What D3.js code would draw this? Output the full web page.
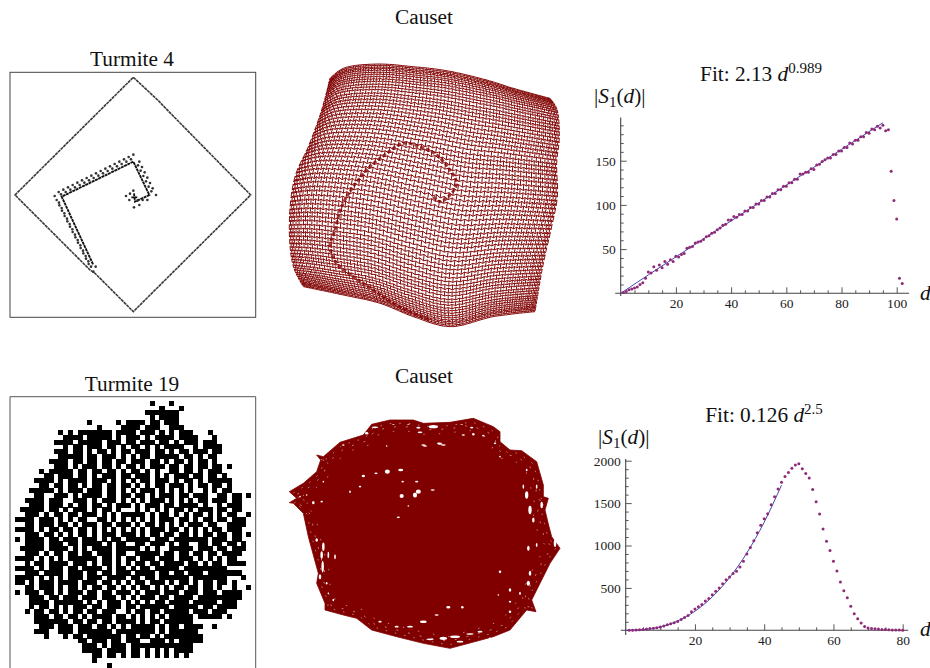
<!DOCTYPE html>
<html>
<head>
<meta charset="utf-8">
<script src="https://cdnjs.cloudflare.com/ajax/libs/d3/7.8.5/d3.min.js"></script>
<style>
  html, body { margin: 0; padding: 0; background: #fff; }
  svg { display: block; font-family: "Liberation Serif", serif; }
  .tick text { font-size: 13.5px; fill: #222; font-family: "Liberation Serif", serif; }
  .title { font-size: 21.3px; fill: #111; }
</style>
</head>
<body>
<svg id="chart" width="930" height="668"></svg>
<script>
// top scatter |S1(d)|, d = 1..102
const topValues = [1,2,4,5,6,7,10,12,17,24,23,30,26,32,29,36,33,38,36,42,41,44,45,51,52,53,57,58,59,61,64,65,68,69,72,74,77,78,83,83,87,86,89,89,93,93,97,97,101,101,105,105,109,109,113,113,117,117,121,121,125,125,129,129,135,135,137,137,141,140,145,146,149,151,153,153,157,157,161,161,165,165,170,169,173,173,177,177,182,181,186,185,189,187,190,184,185,138,105,84,17,11];
const topFitD = [0,10,20,30,40,50,60,70,80,90,95];
const topFitS = [0,20.8,41.2,61.6,81.9,102.2,122.4,142.6,162.8,182.9,193];
// bottom scatter |S1(d)|, d = 1..80
const botValues = [1,2,4,6,10,14,20,24,30,38,50,65,78,88,105,128,150,175,220,250,278,305,345,375,420,460,500,550,595,630,670,695,745,815,900,975,1055,1150,1240,1315,1375,1480,1575,1665,1745,1815,1860,1910,1950,1965,1905,1850,1795,1660,1515,1370,1195,1050,940,815,700,570,465,385,285,195,135,85,45,28,22,18,14,10,8,6,5,4,3,2];
const botFitD = [0,5,10,15,20,25,30,35,40,45];
const botFitS = [0,7,40,110,225,394,621,913,1275,1711];

const topXTicks = [20,40,60,80,100];
const topYTicks = [50,100,150];
const botXTicks = [20,40,60,80];
const botYTicks = [500,1000,1500,2000];

// Turmite 4, traced in crop units
const diamondPts = [[400,112],[478,185],[490,198],[752,465],[400,815],[285,700],[270,690],[45,465],[400,112]];
const spiralPts = [[252,130],[255,155],[298,135],[250,35],[35,140],[130,345]];
const crossPts = [[244,142],[262,142]];
const turmiteDots = [[250,14],[236,21],[222,28],[208,35],[194,42],[180,49],[166,56],[152,63],[138,70],[124,77],[110,84],[96,91],[82,98],[68,105],[54,112],[40,119],[26,126],[14,138],
  [243,28],[229,35],[215,42],[201,49],[187,56],[173,63],[159,70],[145,77],[131,84],[117,91],[103,98],[89,105],[75,112],[61,119],[47,126],[33,133],
  [268,35],[276,51],[284,67],[292,83],[300,99],[308,115],[318,135],[264,46],[272,62],[280,78],[288,94],[296,110],[304,124],
  [27,158],[35,174],[43,190],[51,206],[59,222],[67,238],[75,254],[83,270],[91,286],[99,302],[107,318],[115,334],[123,350],[137,350],[130,365],
  [20,150],[28,166],[36,182],[44,198],[52,214],[60,230],[68,246],[76,262],[84,278],[92,294],[100,310],[108,326],[116,342],
  [228,138],[240,131],[250,122],[238,150],[252,172],[268,165],[278,150],[292,150],[262,152]];

// Turmite 19 bitmap, left half (columns 0-23) and right half (columns 24-48)
const bitsLeft = ["","","","",
"...............#.....#.#",
".................#....##",
".........#.#.#######.###",
"..........####.#####.#.#",
"........####.#####.###.#",
"..........#.##.###.##.#.",
"........###.##.#.##.#.##",
".........#####.##.###.#.",
".......####.##.##.##.##.",
"........###.#.###.##.#.#",
".....#.#####.##.##.##.#.",
"......##.###.##.#.###.##",
"....####.#.####.###.#.#.",
".....##.##.##.#.##.##.##",
"...#####.#.###.###.##.#.",
"....##..###.#.####.##.##",
"..####.###..###.#.###.#.",
"...###.###.#.##.##.#.###",
".#####.##.#.###.#.##.#..",
"..###.#.##.##.###.#.#.##",
"####.###.#.#.##..##.#.#.",
"..##.###.##.#.###.##.###",
"####.#.##.##.##.#.#.#.#.",
"..###.##.#.#.##.#.###.##",
"#.####.##.###.###.#.##.#",
"..####.###.##.####.#.##.",
".#####.####.#.#.####.###",
"..###.#.##.##.##.###.##.",
"####.#.#.#.######.##.#.#",
"..#.##.####.###.#.##.#.#",
"####.#.###.##.####.#.##.",
"..###.####.###.##.##.###",
"####.#.#.#.###.###.####.",
"##.#.###.####.###.##.#.#",
"..##.###.#.##.#.##.##.#.",
"#.###.##.#.###.##.##.###",
"...###.##.###.###.###.#.",
"...####.######.#.#.###.#",
"...#.##.#.#.###.##.###.#",
"..#.##.##.#.##.##.###..#",
"....###.##.##.#.####.##.",
"....#######.##.##.##.###",
".....###.###.###.##.#.#.",
"....###..###.#######.###",
"......#...#.##.#######.#",
".............##.###.##.#",
"..............###.#.###.",
"..............####.####.",
"................##.##.#.",
"................#",
"...................#"];
const bitsRight = [
"....#...#",
"......#...#",
"...#######",
"....#.####",
"###.##.###",
"##.###..###",
"#.###.#.#.###...#",
"##.#.####.####...#",
"#.###.##.#.###.###",
"##.#.#.####..#.####",
".###.##.#.##.###.##",
"#.##.#####.##.#.##",
"###.##.#.##.#.##.#",
"#.#.###.##.##.##.##.#",
"##.#.#..##.##.#.###",
".###.#.#.###.##.##.#",
"#.##.###.#.##.#.#####",
".#.#.##.###.#.##.##.#",
"#.###.#.#.#.#..#.#.##",
".##.#.###.##.###..##.##.#",
"#.#.###.#.#.#.##.###.##",
".#.###.##.####.#..#.###",
".#.#.#.#.##.#.###.##.##",
"###.#.##.#.#.##.#.#.##..#",
"#.#.#.###.##.#.##.##.###",
".#.##.#.#.#.###.##..####",
"#.#.###.##.#.#.#.##.###",
"#.#.##.##.##.#.##.##.##.#",
"####.###.#######.###.##",
".##.###.#.##..##.##.##.#",
"##.#.#..#####.###.##.###",
".#####.##.##.##.##.####",
"#.###.###.###.#.#.#.##",
".##.##.####.##.#.##.####",
"#.##.#####.#########",
".####.##.##.###.#######",
"##.##.######.#######...#",
".##.###.#.##.#.##.##.#",
"#.##.#.#.##.##.##.#..#..#",
".#.###.###.###.###.####",
"#.###.##.####.#########",
".#.#.##.####.#####.###",
"#.######.#####.##.####",
".##.##.#####.###.###",
"#.#.#.#.#####.#####.#",
"#.#.##.######...",
"#####.#.##.####..#",
"#####.#.######",
"#.##.#.########",
"##..###.#.#####",
"#############",
"##.#.#.#.####",
"##.#.#.#.#.#"];

// Causet 1 boundary and spiral, traced in crop units
const causetTop = [[150,85],[190,55],[290,42],[400,50],[500,62],[620,90],[700,115],[810,145]];
const causetRight = [[810,145],[830,175],[838,260],[830,340],[832,440],[815,530],[790,640],[765,785]];
const causetBottom = [[70,710],[190,735],[300,760],[400,800],[510,830],[640,800],[765,785]];
const causetLeft = [[150,85],[125,180],[85,290],[45,380],[28,520],[40,650],[70,710]];
const causetSpiral = [[460,440],[480,455],[510,435],[530,400],[510,360],[470,315],[420,290],[370,280],[320,310],[270,350],[220,410],[185,470],[165,540],[150,590],[170,640],[220,680],[280,720],[340,760],[400,790],[450,810]];

// Causet 2 outline and the gaps left in the tangle
const tangleOutline = [[28,185],[70,160],[110,125],[122,90],[110,75],[130,80],[180,37],[250,15],[275,-17],[330,-30],[400,-30],[430,-20],[510,-23],[580,-35],[640,-10],[660,5],[660,35],[690,60],[725,62],[770,95],[790,165],[790,200],[805,205],[795,240],[805,282],[815,320],[840,355],[810,400],[755,510],[768,545],[740,540],[690,600],[640,620],[510,655],[430,640],[350,620],[275,600],[230,565],[190,555],[135,540],[135,520],[110,460],[115,430],[85,320],[70,250],[40,220],[28,218],[50,205]];
const tangleHoles = [[322,125,6,5],[362,120,6,3],[250,138,4,3],[288,130,4,2],[240,170,3,2],[210,185,2,3],[130,155,2,2],[365,198,5,5],[405,195,5,6],[415,185,6,5],[458,180,5,2],[368,155,3,2],[410,155,4,2],[100,218,3,4],[125,215,3,2],[80,195,2,2],[130,350,3,10],[125,375,3,9],[128,410,3,14],[120,440,3,6],[145,375,2,8],[165,380,2,6],[740,195,4,9],[750,240,4,10],[785,225,3,8],[760,270,3,6],[730,170,2,5],[745,355,3,6],[770,345,2,5],[825,340,3,9],[750,430,3,6],[745,460,4,6],[720,490,2,4],[690,515,3,2],[655,495,2,2],[660,425,3,3],[505,532,5,3],[547,532,3,3],[690,545,3,3],[470,555,5,2],[430,575,8,3],[390,590,7,2],[300,575,4,2],[350,590,5,2],[450,628,9,2],[490,625,9,4],[525,620,12,3],[570,612,9,2],[600,605,6,2],[540,635,8,2],[630,625,3,2],[385,228,2,2],[355,262,4,2],[490,45,6,2],[478,40,6,2],[430,45,5,2],[320,48,2,2],[190,45,3,2],[285,-8,8,2],[260,10,4,3],[460,-10,11,4],[420,7,6,2],[550,15,4,2],[580,13,3,3],[610,17,3,2],[480,42,6,2],[435,48,5,2],[545,-17,4,1],[575,-7,4,2],[340,-17,4,1],[385,-17,4,1],[415,-7,5,2],[660,80,2,2],[645,40,3,2],[60,200,2,2],[740,120,2,3],[770,170,2,5],[690,480,3,4],[110,330,3,4],[145,490,2,2],[160,510,2,3],[140,460,2,3]];

const svg = d3.select("#chart");
const title = (x, y, txt) => svg.append("text").attr("class", "title").attr("x", x).attr("y", y).attr("text-anchor", "middle").text(txt);

title(424, 24, "Causet");
title(424, 383, "Causet");
title(132, 66, "Turmite 4");
title(132, 391, "Turmite 19");

// Turmite 4
const t4x = d3.scaleLinear().domain([30, 767]).range([10, 255.7]);
const t4y = d3.scaleLinear().domain([97, 832]).range([72.3, 317.3]);
const t7x = d3.scaleLinear().domain([0, 330]).range([50, 160]);
const t7y = d3.scaleLinear().domain([0, 375]).range([150, 275]);
svg.append("rect").attr("x", t4x(30)).attr("y", t4y(97)).attr("width", t4x(767) - t4x(30)).attr("height", t4y(832) - t4y(97))
  .attr("fill", "none").attr("stroke", "#444");
svg.append("path").attr("d", d3.line().x(d => t4x(d[0])).y(d => t4y(d[1]))(diamondPts))
  .attr("fill", "none").attr("stroke", "#3a3a3a").attr("stroke-width", 1.6).attr("stroke-dasharray", "3.2 0.6");
[spiralPts, crossPts].forEach(pts => {
  svg.append("path").attr("d", d3.line().x(d => t7x(d[0])).y(d => t7y(d[1]))(pts))
    .attr("fill", "none").attr("stroke", "#111").attr("stroke-width", 1.9).attr("stroke-dasharray", "3 0.6");
});
svg.append("g").selectAll("circle").data(turmiteDots).join("circle")
  .attr("cx", d => t7x(d[0])).attr("cy", d => t7y(d[1])).attr("r", 1.3).attr("fill", "#333");

// Turmite 19
const colX = d3.scaleLinear().domain([0, 49]).range([15, 251]);
const rowY = d3.scaleLinear().domain([0, 55]).range([400.7, 667.5]);
svg.append("path").attr("d", "M" + t4x(30) + ",668V396.7H" + t4x(767) + "V668").attr("fill", "none").attr("stroke", "#555");
const cells = [];
bitsLeft.forEach((row, r) => {
  const full = row.padEnd(24, ".") + (bitsRight[r] || "");
  full.split("").forEach((ch, c) => { if (ch === "#") cells.push([c, r]); });
});
svg.append("g").attr("shape-rendering", "crispEdges").selectAll("rect").data(cells).join("rect")
  .attr("x", d => colX(d[0])).attr("y", d => rowY(d[1]))
  .attr("width", colX(1) - colX(0) + 0.2).attr("height", rowY(1) - rowY(0) + 0.2).attr("fill", "#000");

// Causet 1: hex lattice pulled into the traced boundary
const c1x = d3.scaleLinear().domain([0, 870]).range([280, 570]);
const c1y = d3.scaleLinear().domain([0, 870]).range([50, 340]);
const makeSampler = pts => {
  const p = svg.append("path").attr("d", d3.line().curve(d3.curveCatmullRom)(pts)).attr("fill", "none");
  const node = p.node(), len = node.getTotalLength();
  const samples = d3.range(0, 401).map(i => { const q = node.getPointAtLength(len * i / 400); return [q.x, q.y]; });
  p.remove();
  return t => samples[Math.round(t * 400)];
};
const sT = makeSampler(causetTop), sB = makeSampler(causetBottom), sL = makeSampler(causetLeft), sR = makeSampler(causetRight);
const warp = t => 0.4 * t + 0.6 * (0.5 + 0.5 * Math.sin(Math.PI * (t - 0.5)));
const patch = (a, b) => {
  const u = warp(Math.min(1, Math.max(0, a))), v = warp(Math.min(1, Math.max(0, b)));
  const T = sT(u), B = sB(u), L = sL(v), R = sR(v);
  const C = [causetTop[0], causetTop[causetTop.length - 1], causetBottom[0], causetBottom[causetBottom.length - 1]];
  return [0, 1].map(k =>
    (1 - v) * T[k] + v * B[k] + (1 - u) * L[k] + u * R[k]
    - ((1 - u) * (1 - v) * C[0][k] + u * (1 - v) * C[1][k] + (1 - u) * v * C[2][k] + u * v * C[3][k]));
};
const nu = 88, nv = 70;
const meshPt = (i, j) => {
  const q = patch(i / nu, (j + ((i + j) % 2 ? 0.2 : -0.2)) / nv);
  return c1x(q[0]).toFixed(1) + "," + c1y(q[1]).toFixed(1);
};
let mesh = "";
for (let j = 0; j <= nv; j++) {
  for (let i = 0; i <= nu; i++) {
    if (i < nu) mesh += "M" + meshPt(i, j) + "L" + meshPt(i + 1, j);
    if (j < nv && (i + j) % 2 === 0) mesh += "M" + meshPt(i, j) + "L" + meshPt(i, j + 1);
  }
}
svg.append("path").attr("d", mesh).attr("fill", "none").attr("stroke", "#800000").attr("stroke-width", 0.95);
svg.append("path").attr("d", d3.line().x(d => c1x(d[0])).y(d => c1y(d[1])).curve(d3.curveCatmullRom)(causetSpiral))
  .attr("fill", "none").attr("stroke", "#800000").attr("stroke-width", 3).attr("stroke-dasharray", "4 2").attr("stroke-opacity", 0.75);

// Causet 2
const c2x = d3.scaleLinear().domain([0, 870]).range([280, 570]);
const c2y = d3.scaleLinear().domain([0, 660]).range([430, 650]);
const tangleLine = d3.line().x(d => c2x(d[0])).y(d => c2y(d[1])).curve(d3.curveLinearClosed);
svg.append("path").attr("d", tangleLine(tangleOutline)).attr("fill", "#800000").attr("stroke", "#800000").attr("stroke-width", 0.8);
// loose strands near the rim
[[0.97, "1.5 8"], [0.94, "2 10"], [0.9, "1.5 14"]].forEach(([k, dash]) => {
  const inner = tangleOutline.map(d => [430 + (d[0] - 430) * k, 310 + (d[1] - 310) * k]);
  svg.append("path").attr("d", tangleLine(inner)).attr("fill", "none").attr("stroke", "#fff")
    .attr("stroke-width", 0.8).attr("stroke-opacity", 0.6).attr("stroke-dasharray", dash);
});
svg.append("g").selectAll("ellipse").data(tangleHoles).join("ellipse")
  .attr("cx", d => c2x(d[0])).attr("cy", d => c2y(d[1])).attr("rx", d => d[2] / 2.4).attr("ry", d => d[3] / 2.4).attr("fill", "#fff");

// scatter panels
function scatterPanel(o) {
  const x = d3.scaleLinear().domain(o.xDomain).range(o.xRange);
  const y = d3.scaleLinear().domain(o.yDomain).range(o.yRange);
  const axisColor = "#444";
  const g = svg.append("g");

  const gx = g.append("g").attr("transform", `translate(0,${y(0)})`);
  gx.call(d3.axisBottom(x).tickValues(o.xTicks).tickFormat(d3.format("d")).tickSizeInner(-6).tickSizeOuter(0).tickPadding(o.xPad));
  const gxm = g.append("g").attr("transform", `translate(0,${y(0)})`);
  gxm.call(d3.axisBottom(x).tickValues(o.xMinor).tickFormat("").tickSizeInner(-3).tickSizeOuter(0));
  const gy = g.append("g").attr("transform", `translate(${x(0)},0)`);
  gy.call(d3.axisLeft(y).tickValues(o.yTicks).tickFormat(d3.format("d")).tickSizeInner(-6).tickSizeOuter(0).tickPadding(o.yPad));
  const gym = g.append("g").attr("transform", `translate(${x(0)},0)`);
  gym.call(d3.axisLeft(y).tickValues(o.yMinor).tickFormat("").tickSizeInner(-3).tickSizeOuter(0));
  g.selectAll(".domain").remove();
  g.selectAll(".tick line").attr("stroke", axisColor).attr("stroke-width", 0.9);
  g.append("line").attr("x1", x(o.xExtent[0])).attr("x2", x(o.xExtent[1])).attr("y1", y(0)).attr("y2", y(0)).attr("stroke", axisColor).attr("stroke-width", 1.1);
  g.append("line").attr("x1", x(0)).attr("x2", x(0)).attr("y1", y(o.yExtent[0])).attr("y2", y(o.yExtent[1])).attr("stroke", axisColor).attr("stroke-width", 1.1);

  g.append("path").attr("d", d3.line().x(d => x(d[0])).y(d => y(d[1])).curve(d3.curveMonotoneX)(d3.zip(o.fitD, o.fitS)))
    .attr("fill", "none").attr("stroke", "#4747b0").attr("stroke-width", 1);
  g.append("g").selectAll("circle").data(o.values).join("circle")
    .attr("cx", (d, i) => x(i + 1)).attr("cy", d => y(d)).attr("r", 1.5).attr("fill", "#8e2a78");
}

scatterPanel({
  xDomain: [0, 100], xRange: [620.7, 896.7], yDomain: [0, 150], yRange: [293.3, 160.7],
  xExtent: [-2, 104.5], yExtent: [-3, 199], xPad: 5, yPad: 5,
  xTicks: topXTicks, yTicks: topYTicks, xMinor: [5,10,15,25,30,35,45,50,55,65,70,75,85,90,95],
  yMinor: [10,20,30,40,60,70,80,90,110,120,130,140,160,170,180,190],
  fitD: topFitD, fitS: topFitS, values: topValues
});
scatterPanel({
  xDomain: [0, 80], xRange: [625.7, 902.7], yDomain: [0, 2000], yRange: [630.3, 460.7],
  xExtent: [-1.4, 81.6], yExtent: [-55, 2020], xPad: 5, yPad: 5,
  xTicks: botXTicks, yTicks: botYTicks, xMinor: [5,10,15,25,30,35,45,50,55,65,70,75],
  yMinor: [100,200,300,400,600,700,800,900,1100,1200,1300,1400,1600,1700,1800,1900],
  fitD: botFitD, fitS: botFitS, values: botValues
});

function fitTitle(x, y, coef, exp) {
  const t = svg.append("text").attr("class", "title").attr("x", x).attr("y", y).attr("text-anchor", "middle");
  t.append("tspan").text("Fit: " + coef + " ");
  t.append("tspan").attr("font-style", "italic").text("d");
  t.append("tspan").attr("font-size", 15).attr("dy", -8).text(exp);
}
function sLabel(x, y) {
  const t = svg.append("text").attr("class", "title").attr("x", x).attr("y", y);
  t.append("tspan").text("|");
  t.append("tspan").attr("font-style", "italic").text("S");
  t.append("tspan").attr("font-size", 15).attr("dy", 4).text("1");
  t.append("tspan").attr("dy", -4).text("(");
  t.append("tspan").attr("font-style", "italic").text("d");
  t.append("tspan").text(")|");
}
fitTitle(761, 81, "2.13", "0.989");
fitTitle(764, 422, "0.126", "2.5");
sLabel(594, 103);
sLabel(598, 444);
svg.append("text").attr("class", "title").attr("x", 920).attr("y", 300).attr("font-style", "italic").text("d");
svg.append("text").attr("class", "title").attr("x", 920).attr("y", 636).attr("font-style", "italic").text("d");
</script>
</body>
</html>
